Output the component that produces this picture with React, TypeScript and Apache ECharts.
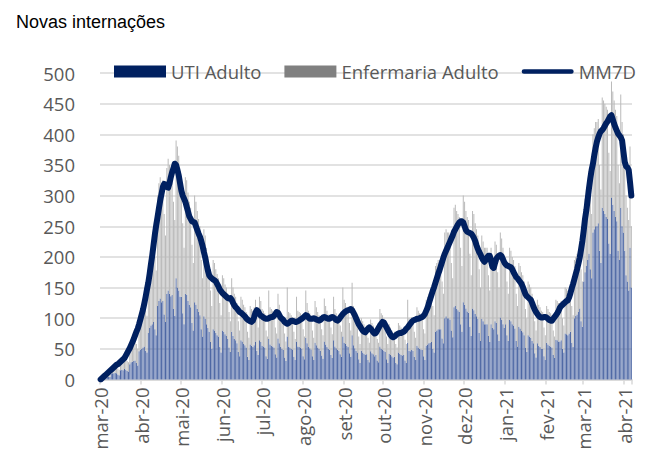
import React, { useEffect, useRef } from "react";
import * as echarts from "echarts";

const startDate = "2020-03-01";
const monthLabels = [
  "mar-20", "abr-20", "mai-20", "jun-20", "jul-20", "ago-20", "set-20",
  "out-20", "nov-20", "dez-20", "jan-21", "fev-21", "mar-21", "abr-21",
];
const yTicks = [0, 50, 100, 150, 200, 250, 300, 350, 400, 450, 500];

// UTI Adulto (daily)
const uti = [
  // mar-20
  0,0,1,2,3,4,4,4,9,10,10,11,10,8,7,15,16,15,17,16,14,13,25,28,29,30,31,27,23,46,48,
  // abr-20
  50,52,54,47,44,76,84,88,90,94,82,72,120,128,132,126,128,106,94,140,145,140,136,138,115,104,165,150,145,135,
  // mai-20
  135,108,90,140,138,128,122,118,92,80,126,122,115,110,105,82,70,103,99,90,84,78,61,50,82,80,76,72,70,53,44,
  // jun-20
  80,78,74,71,66,52,45,78,71,66,64,59,45,38,64,62,58,56,52,37,32,57,55,53,56,62,47,40,64,61,
  // jul-20
  55,54,52,38,34,66,57,55,54,52,41,36,67,59,53,50,48,36,30,70,53,52,50,49,37,32,62,54,53,52,50,
  // ago-20
  38,33,68,59,53,51,49,38,32,60,56,52,50,47,39,34,62,57,53,50,48,40,35,64,54,51,48,47,41,37,70,
  // set-20
  60,58,55,53,43,37,72,56,51,47,44,33,27,47,44,42,40,41,32,28,46,43,41,38,40,31,28,54,50,49,
  // out-20
  47,45,33,27,42,40,38,36,37,27,25,44,42,40,39,40,31,27,60,47,46,48,47,37,32,55,52,50,49,48,38,
  // nov-20
  32,55,57,59,60,61,50,44,78,80,82,82,82,67,59,100,103,100,100,98,80,69,118,120,115,113,110,90,78,126,
  // dez-20
  122,116,111,109,86,71,116,113,107,103,99,76,63,99,95,90,90,90,71,61,90,84,82,95,92,74,63,101,97,90,84,
  // jan-21
  90,72,63,97,95,90,88,83,63,54,86,83,79,77,72,52,45,72,70,68,63,59,43,36,59,55,53,50,50,38,32,
  // fev-21
  60,57,55,54,52,40,35,65,64,62,62,64,50,44,75,74,72,75,78,60,53,100,104,106,110,116,95,86,
  // mar-21
  160,175,185,195,205,180,165,240,245,250,250,255,210,190,280,275,270,265,262,222,205,297,285,275,265,258,210,195,280,250,240,
  // abr-21
  210,170,160,145,215,150,
];

// Enfermaria Adulto (daily)
const enfermaria = [
  // mar-20
  0,1,2,3,3,5,4,5,11,12,11,13,12,10,9,17,18,18,19,19,16,15,30,32,33,34,35,31,27,54,58,
  // abr-20
  68,70,72,65,60,104,116,122,125,131,118,106,180,192,198,194,197,164,141,205,215,210,204,207,175,156,225,230,220,205,
  // mai-20
  185,147,125,190,187,177,168,162,128,110,174,168,160,152,145,113,95,142,136,125,116,107,84,70,113,110,104,100,95,72,61,
  // jun-20
  90,87,81,79,74,58,50,87,79,74,71,66,50,42,71,68,64,62,58,41,36,63,60,59,62,68,53,45,71,67,
  // jul-20
  60,58,56,42,36,79,61,60,58,56,44,39,73,63,57,55,52,39,32,80,57,56,55,53,41,34,73,58,57,56,55,
  // ago-20
  44,37,77,66,59,57,54,42,36,68,62,58,55,53,43,38,70,63,59,56,54,45,39,71,61,57,54,53,47,41,80,
  // set-20
  70,67,63,62,49,43,86,64,59,53,51,37,31,53,51,48,45,47,36,32,52,49,47,44,45,35,32,61,58,56,
  // out-20
  53,50,37,31,48,45,42,40,41,31,27,48,46,45,43,44,34,31,70,53,52,54,53,41,36,63,60,58,57,57,44,
  // nov-20
  43,75,78,81,82,84,70,61,107,110,113,113,113,93,81,140,142,140,140,137,110,96,162,165,160,157,155,125,107,174,
  // dez-20
  168,159,154,151,119,99,159,157,148,142,136,104,87,136,130,125,125,125,99,84,125,116,113,130,128,101,87,139,133,125,116,
  // jan-21
  110,88,77,118,115,110,107,102,77,66,104,102,96,93,88,63,55,88,85,82,77,71,52,44,71,67,65,62,60,47,40,
  // fev-21
  60,58,55,54,53,40,35,65,64,63,63,64,50,44,75,74,73,75,77,60,52,95,96,99,100,104,85,74,
  // mar-21
  110,120,125,130,135,120,105,160,165,170,170,170,140,120,180,180,180,180,178,148,135,189,185,180,175,172,140,125,185,170,160,
  // abr-21
  160,130,120,115,165,100,
];

// MM7D (7-day moving average of total admissions)
const mm7d = [
  // mar-20
  0,2,4,6,8,10,12,14,16,18,20,22,24,25,27,29,31,33,35,39,43,47,51,56,61,66,72,78,83,90,98,
  // abr-20
  106,114,124,135,147,158,172,188,203,220,237,252,265,279,292,303,314,319,318,314,313,320,330,338,345,352,350,342,333,320,
  // mai-20
  308,300,295,290,282,274,266,262,258,257,256,250,244,238,233,226,218,208,199,188,178,170,167,165,163,162,160,156,152,147,144,
  // jun-20
  141,139,137,135,133,132,133,130,125,121,118,116,113,110,109,107,105,103,100,98,96,95,94,96,102,109,113,111,107,104,
  // jul-20
  103,101,100,99,99,100,101,102,102,104,107,110,109,105,101,99,97,94,92,91,92,94,96,96,95,94,94,95,96,98,99,
  // ago-20
  101,103,105,104,101,99,99,99,100,99,98,97,96,97,99,101,102,101,100,99,99,101,102,101,99,97,96,98,101,104,107,
  // set-20
  109,111,112,113,114,115,113,109,105,100,95,90,87,83,80,78,77,80,83,85,83,80,77,75,76,80,84,88,91,94,
  // out-20
  93,89,85,81,77,73,70,69,70,72,74,75,76,76,77,78,80,83,85,88,91,94,96,97,98,99,99,100,101,102,104,
  // nov-20
  107,112,117,124,131,138,145,151,158,165,172,178,185,192,199,205,210,215,220,225,230,235,241,245,249,253,256,258,258,256,
  // dez-20
  250,244,241,240,239,238,235,231,226,219,213,208,204,199,195,192,195,199,202,202,193,184,182,190,197,200,202,203,201,196,191,
  // jan-21
  188,186,185,184,183,180,175,171,167,165,162,159,156,151,145,139,136,134,132,130,125,119,114,110,107,104,102,101,101,102,102,
  // fev-21
  101,99,97,96,96,99,102,105,108,112,117,120,122,124,126,128,129,134,141,149,156,164,172,180,189,199,212,226,
  // mar-21
  243,262,276,294,312,328,342,352,366,378,388,395,401,405,407,410,414,418,421,425,429,431,424,417,411,406,401,398,395,390,372,
  // abr-21
  355,348,346,342,322,300,
];

function buildDates(start: string, n: number): string[] {
  const [y, m, d] = start.split("-").map(Number);
  const t0 = Date.UTC(y, m - 1, d);
  const out: string[] = [];
  for (let i = 0; i < n; i++) {
    out.push(new Date(t0 + i * 86400000).toISOString().slice(0, 10));
  }
  return out;
}

function monthLabelOf(value: string): string {
  const [y, m] = value.split("-").map(Number);
  return monthLabels[(y - 2020) * 12 + (m - 3)] ?? "";
}

const FONT = "Open Sans";
const TEXT_COLOR = "#595959";
const LINE_ICON = "path://M2.5,0 L54.5,0 A2.5,2.5 0 0 1 54.5,5 L2.5,5 A2.5,2.5 0 0 1 2.5,0 Z";

export default function App() {
  const ref = useRef<HTMLDivElement>(null);

  useEffect(() => {
    if (!ref.current) return;
    const chart = echarts.init(ref.current, null, { renderer: "svg" });
    const dates = buildDates(startDate, uti.length);
    const isMonthStart = (_i: number, v: string) => v.endsWith("-01");

    chart.setOption({
      animation: false,
      backgroundColor: "#ffffff",
      title: {
        text: "Novas internações",
        left: 11,
        top: 8,
        textStyle: {
          fontFamily: "Liberation Sans",
          fontSize: 18,
          fontWeight: "normal",
          color: "#000000",
        },
      },
      legend: {
        left: 109,
        top: 57,
        itemGap: 23,
        itemWidth: 52,
        itemHeight: 12,
        textStyle: { fontFamily: FONT, fontSize: 18.5, color: TEXT_COLOR },
        data: [
          { name: "UTI Adulto", icon: "rect", itemStyle: { color: "#002060" } },
          { name: "Enfermaria Adulto", icon: "rect", itemStyle: { color: "#808080" } },
          {
            name: "MM7D",
            icon: LINE_ICON,
            itemStyle: { color: "#002060", borderWidth: 0 },
            lineStyle: { width: 0 },
          },
        ],
      },
      grid: { left: 100, right: 24, top: 73, bottom: 84.5, containLabel: false },
      xAxis: {
        type: "category",
        data: dates,
        boundaryGap: true,
        axisLine: { show: true, lineStyle: { color: "#d9d9d9", width: 1.5 } },
        axisTick: {
          show: true,
          interval: isMonthStart,
          length: 5,
          lineStyle: { color: "#d9d9d9", width: 1.5 },
        },
        axisLabel: {
          interval: isMonthStart,
          rotate: 90,
          margin: 8,
          fontFamily: FONT,
          fontSize: 18.5,
          color: TEXT_COLOR,
          formatter: (v: string) => monthLabelOf(v),
        },
        splitLine: { show: false },
      },
      yAxis: {
        type: "value",
        min: yTicks[0],
        max: yTicks[yTicks.length - 1],
        interval: 50,
        axisLine: { show: false },
        axisTick: { show: false },
        axisLabel: { margin: 25, fontFamily: FONT, fontSize: 18.5, color: TEXT_COLOR },
        splitLine: { lineStyle: { color: "#d9d9d9", width: 1.5 } },
      },
      series: [
        {
          name: "UTI Adulto",
          type: "bar",
          stack: "total",
          data: uti,
          barCategoryGap: "25%",
          itemStyle: { color: "#4d67a4" },
          emphasis: { disabled: true },
        },
        {
          name: "Enfermaria Adulto",
          type: "bar",
          stack: "total",
          data: enfermaria,
          barCategoryGap: "25%",
          itemStyle: { color: "#bababa" },
          emphasis: { disabled: true },
        },
        {
          name: "MM7D",
          type: "line",
          data: mm7d,
          symbol: "none",
          showSymbol: false,
          z: 5,
          lineStyle: { color: "#002060", width: 6, cap: "round", join: "round" },
          itemStyle: { color: "#002060" },
          emphasis: { disabled: true },
        },
      ],
    });

    return () => chart.dispose();
  }, []);

  return (
    <div
      ref={ref}
      style={{ position: "absolute", left: 0, top: 0, width: 656, height: 464 }}
    />
  );
}
